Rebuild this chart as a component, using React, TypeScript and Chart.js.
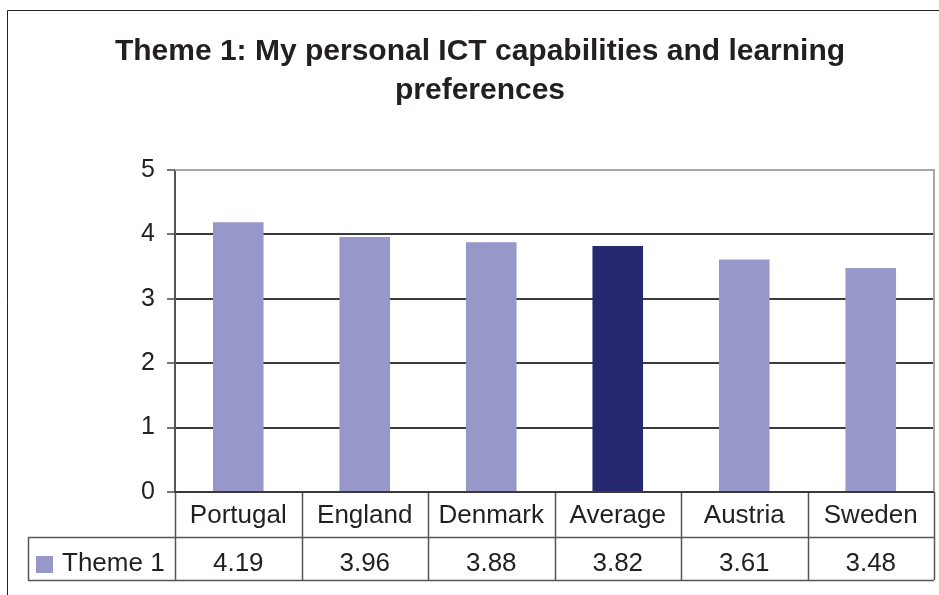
import React, { useEffect, useRef } from "react";
import { Chart, registerables } from "chart.js";

Chart.register(...registerables);

const titleLines = ["Theme 1: My personal ICT capabilities and learning", "preferences"];
const categories = ["Portugal", "England", "Denmark", "Average", "Austria", "Sweden"];
const seriesName = "Theme 1";
const values = [4.19, 3.96, 3.88, 3.82, 3.61, 3.48];
const valueLabels = ["4.19", "3.96", "3.88", "3.82", "3.61", "3.48"];
const highlightCategory = "Average";
const yMin = 0;
const yMax = 5;
const yStep = 1;

const LIGHT = "#9797c9";
const DARK = "#262870";
const TEXT = "#231f20";
const FONT = "'Liberation Sans', Arial, sans-serif";

const framePlugin = {
  id: "frame",
  beforeDraw(chart: any) {
    const { ctx, width, height } = chart;
    ctx.save();
    ctx.fillStyle = "#ffffff";
    ctx.fillRect(0, 0, width, height);
    ctx.strokeStyle = "#222222";
    ctx.lineWidth = 1;
    ctx.beginPath();
    ctx.moveTo(7.5, height);
    ctx.lineTo(7.5, 10.5);
    ctx.lineTo(width, 10.5);
    ctx.stroke();
    ctx.restore();
  },
  afterDraw(chart: any) {
    const { ctx, chartArea: ca, scales } = chart;
    const x = scales.x;
    const n = categories.length;
    const step = x.getPixelForValue(1) - x.getPixelForValue(0);
    const edge = (i: number) => x.getPixelForValue(i) - step / 2;
    const r1Top = ca.bottom;
    const r1Bot = ca.bottom + 45;
    const r2Bot = r1Bot + 43;
    const legendLeft = 28;

    ctx.save();
    // plot area top/right border
    ctx.strokeStyle = "#a6a6a6";
    ctx.lineWidth = 2;
    ctx.beginPath();
    ctx.moveTo(ca.left, ca.top);
    ctx.lineTo(ca.right, ca.top);
    ctx.lineTo(ca.right, r1Top);
    ctx.stroke();

    // table lines
    ctx.strokeStyle = "#555555";
    ctx.lineWidth = 1.5;
    ctx.beginPath();
    for (let i = 0; i <= n; i++) {
      const px = Math.round(edge(i)) + 0.5;
      ctx.moveTo(px, r1Top);
      ctx.lineTo(px, r2Bot);
    }
    ctx.moveTo(legendLeft + 0.5, r1Bot);
    ctx.lineTo(legendLeft + 0.5, r2Bot);
    ctx.moveTo(legendLeft, r1Bot + 0.5);
    ctx.lineTo(edge(n), r1Bot + 0.5);
    ctx.moveTo(legendLeft, r2Bot + 0.5);
    ctx.lineTo(edge(n), r2Bot + 0.5);
    ctx.stroke();

    // x axis line
    ctx.strokeStyle = "#3a3a3a";
    ctx.lineWidth = 2;
    ctx.beginPath();
    ctx.moveTo(ca.left, r1Top);
    ctx.lineTo(edge(n), r1Top);
    ctx.stroke();

    // texts
    ctx.fillStyle = TEXT;
    ctx.font = `26px ${FONT}`;
    ctx.textAlign = "center";
    ctx.textBaseline = "alphabetic";
    categories.forEach((c, i) => {
      ctx.fillText(c, x.getPixelForValue(i), r1Top + 31);
    });
    valueLabels.forEach((v, i) => {
      ctx.fillText(v, x.getPixelForValue(i), r1Bot + 34);
    });
    ctx.textAlign = "left";
    ctx.fillText(seriesName, 62, r1Bot + 34);
    ctx.fillStyle = LIGHT;
    ctx.fillRect(36, r1Bot + 19, 17, 17);
    ctx.restore();
  },
};

export default function App() {
  const ref = useRef<HTMLCanvasElement | null>(null);

  useEffect(() => {
    document.body.style.margin = "0";
    const canvas = ref.current;
    if (!canvas) return;
    const chart = new Chart(canvas, {
      type: "bar",
      data: {
        labels: categories,
        datasets: [
          {
            label: seriesName,
            data: values,
            backgroundColor: categories.map((c) => (c === highlightCategory ? DARK : LIGHT)),
            borderWidth: 0,
            barPercentage: 0.4,
            categoryPercentage: 1,
          },
        ],
      },
      options: {
        responsive: false,
        animation: false,
        devicePixelRatio: 1,
        layout: { padding: { left: 26, right: 5, top: 0, bottom: 103 } },
        plugins: {
          legend: { display: false },
          tooltip: { enabled: false },
          title: {
            display: true,
            text: titleLines,
            color: TEXT,
            font: { family: FONT, size: 30, weight: "bold", lineHeight: 1.3 },
            padding: { top: 32, bottom: 60 },
          },
        },
        scales: {
          x: {
            display: false,
            offset: true,
          },
          y: {
            min: yMin,
            max: yMax,
            afterFit: (scale: any) => {
              scale.width = 149;
            },
            ticks: {
              stepSize: yStep,
              color: TEXT,
              padding: 12,
              font: { family: FONT, size: 25 },
            },
            border: { display: true, color: "#555555", width: 2 },
            grid: {
              color: (ctx: any) => (ctx.tick && ctx.tick.value === yMax ? "#a6a6a6" : "#3a3a3a"),
              lineWidth: 2,
              tickLength: 8,
              tickColor: "#777777",
              drawOnChartArea: true,
            },
          },
        },
      },
      plugins: [framePlugin],
    });
    return () => chart.destroy();
  }, []);

  return (
    <div style={{ width: 939, height: 595 }}>
      <canvas ref={ref} width={939} height={595} style={{ display: "block" }} />
    </div>
  );
}
